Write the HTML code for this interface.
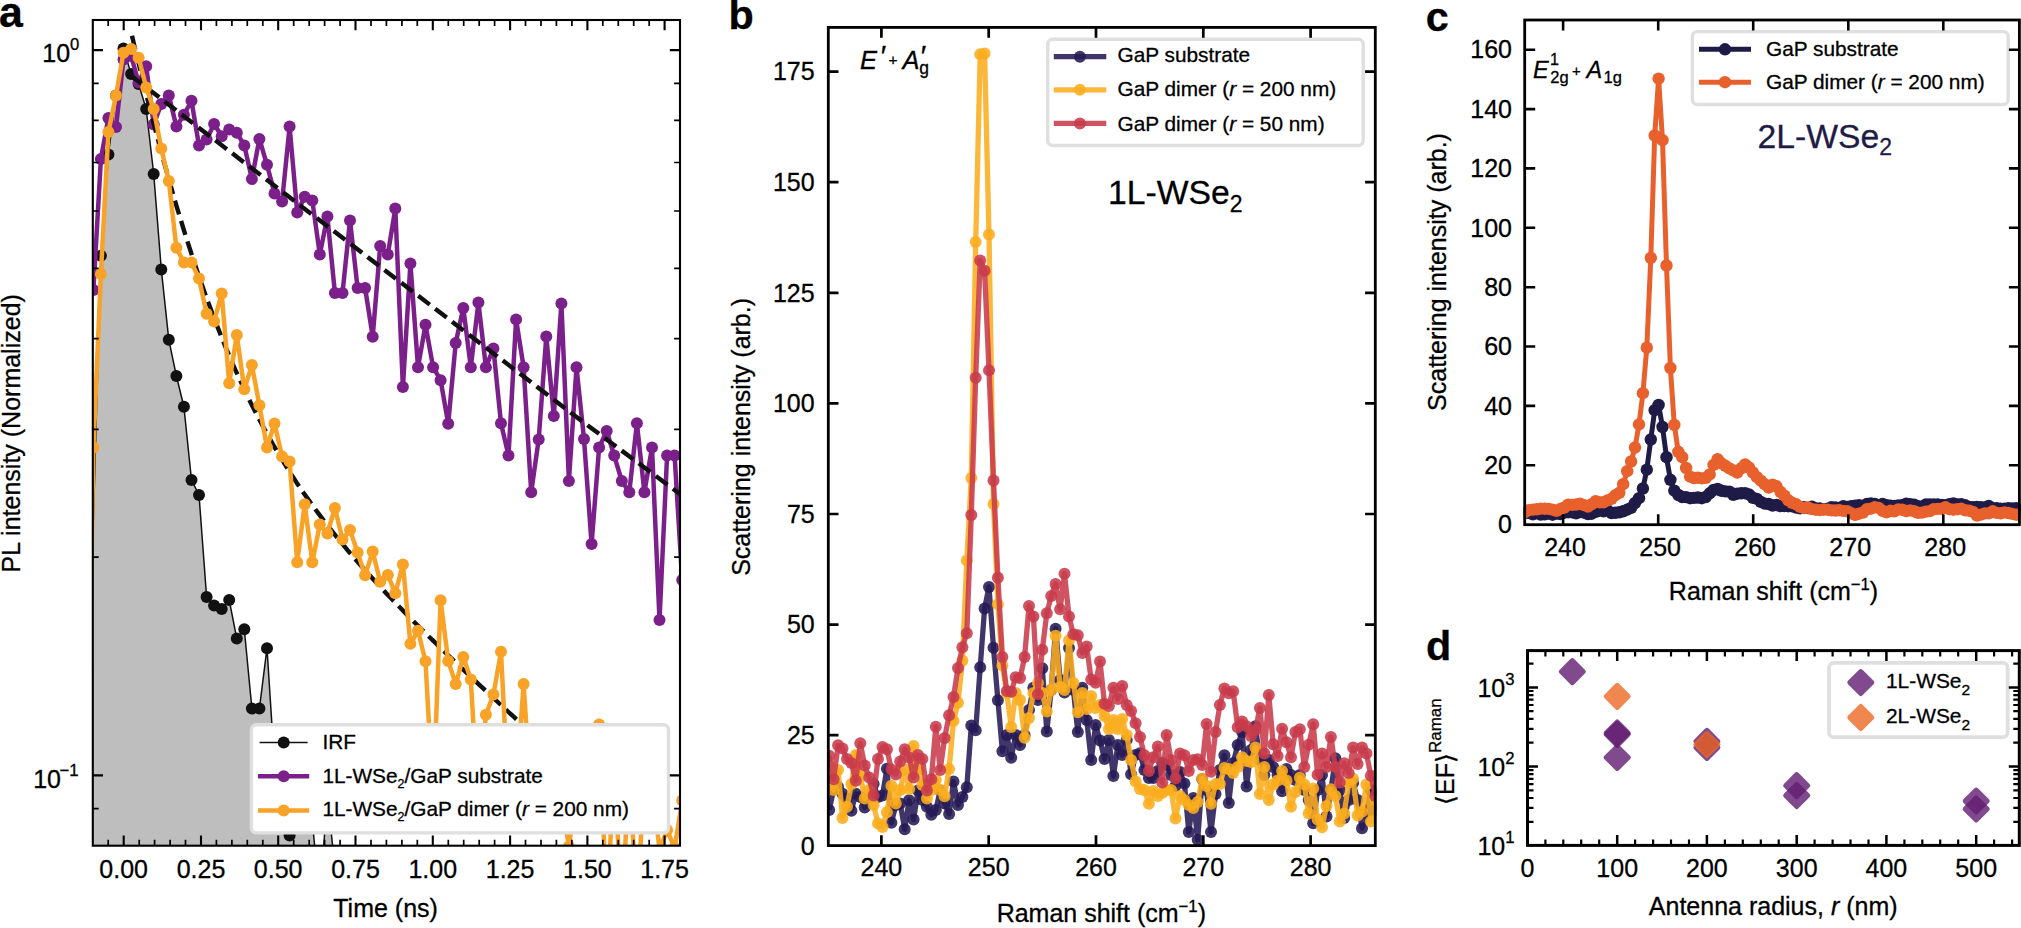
<!DOCTYPE html>
<html lang="en"><head><meta charset="utf-8"><title>Figure</title>
<style>html,body{margin:0;padding:0;background:#fff;}body{width:2021px;height:928px;overflow:hidden;}svg{display:block;}text{stroke-width:0.3px;}</style>
</head><body>
<svg width="2021" height="928" viewBox="0 0 2021 928" font-family='"Liberation Sans", Arial, Helvetica, sans-serif'>
<defs><clipPath id="ca"><rect x="92.8" y="20" width="587.2" height="825.7"/></clipPath><clipPath id="cb"><rect x="827.3" y="27.4" width="549" height="818.2"/></clipPath><clipPath id="cc"><rect x="1523.7" y="20" width="497.7" height="504.7"/></clipPath></defs>
<rect width="2021" height="928" fill="#fff"/>
<polygon points="92.8,1000 93.4,520 100.9,255.8 108.4,154.6 116,95.4 123.5,48.4 131.1,73.9 138.6,84 146.2,109 153.7,174 161.3,269.4 168.8,339.8 176.4,376 183.9,406.8 191.5,480 199,494.9 206.6,596.9 214.1,605.4 221.7,609 229.2,600 236.8,638.6 244.3,629.2 251.9,708.6 259.4,708.6 267,648.2 274.5,765 282.1,805 289.6,835.5 297.2,815 304.7,808 312.3,821 319.8,900 327.4,795 334.9,868 342.5,1000 342.5,1000" fill="#bebebe" clip-path="url(#ca)"/>
<polyline points="93.4,520 100.9,255.8 108.4,154.6 116,95.4 123.5,48.4 131.1,73.9 138.6,84 146.2,109 153.7,174 161.3,269.4 168.8,339.8 176.4,376 183.9,406.8 191.5,480 199,494.9 206.6,596.9 214.1,605.4 221.7,609 229.2,600 236.8,638.6 244.3,629.2 251.9,708.6 259.4,708.6 267,648.2 274.5,765 282.1,805 289.6,835.5 297.2,815 304.7,808 312.3,821 319.8,900 327.4,795 334.9,868 342.5,1000" fill="none" stroke="#111111" stroke-width="1.5" stroke-linejoin="round" stroke-linecap="butt" clip-path="url(#ca)"/>
<g fill="#111111" clip-path="url(#ca)">
<circle cx="100.9" cy="255.8" r="6"/><circle cx="108.4" cy="154.6" r="6"/><circle cx="116" cy="95.4" r="6"/><circle cx="123.5" cy="48.4" r="6"/><circle cx="131.1" cy="73.9" r="6"/><circle cx="138.6" cy="84" r="6"/><circle cx="146.2" cy="109" r="6"/><circle cx="153.7" cy="174" r="6"/><circle cx="161.3" cy="269.4" r="6"/><circle cx="168.8" cy="339.8" r="6"/><circle cx="176.4" cy="376" r="6"/><circle cx="183.9" cy="406.8" r="6"/><circle cx="191.5" cy="480" r="6"/><circle cx="199" cy="494.9" r="6"/><circle cx="206.6" cy="596.9" r="6"/><circle cx="214.1" cy="605.4" r="6"/><circle cx="221.7" cy="609" r="6"/><circle cx="229.2" cy="600" r="6"/><circle cx="236.8" cy="638.6" r="6"/><circle cx="244.3" cy="629.2" r="6"/><circle cx="251.9" cy="708.6" r="6"/><circle cx="259.4" cy="708.6" r="6"/><circle cx="267" cy="648.2" r="6"/><circle cx="274.5" cy="765" r="6"/><circle cx="282.1" cy="805" r="6"/><circle cx="289.6" cy="835.5" r="6"/><circle cx="297.2" cy="815" r="6"/><circle cx="304.7" cy="808" r="6"/><circle cx="312.3" cy="821" r="6"/><circle cx="319.8" cy="900" r="6"/><circle cx="327.4" cy="795" r="6"/><circle cx="334.9" cy="868" r="6"/><circle cx="342.5" cy="1000" r="6"/>
</g>
<polyline points="93.4,290 100.9,159 108.4,118 116,127.1 123.5,59.4 131.1,56 138.6,82.5 146.2,66.3 153.7,124.5 161.3,104 168.8,95.4 176.4,126.6 183.9,114.8 191.5,100.8 199,145.6 206.6,139.6 214.1,124 221.7,136.3 229.2,129.4 236.8,132.7 244.3,145.4 251.9,179 259.4,138.9 267,164.8 274.5,193.4 282.1,201.4 289.6,126.6 297.2,212.4 304.7,196.8 312.3,200.5 319.8,254.5 327.4,216.6 334.9,293.1 342.5,293.1 350,220.5 357.6,287.9 365.1,287.9 372.7,336.7 380.2,245.9 387.8,254.5 395.3,208.6 402.9,387.1 410.4,263.6 418,367.2 425.5,324.8 433.1,367.2 440.6,380.2 448.2,423.7 455.7,342.9 463.3,308 470.8,367.2 478.4,302.6 485.9,367.2 493.4,348.5 501,423.3 508.5,455.6 516.1,319.4 523.6,367.2 531.2,492.2 538.7,439.4 546.3,336.5 553.8,416 561.4,303.5 568.9,481 576.5,367.3 584,439.1 591.6,544.1 599.1,447.6 606.7,430.9 614.2,455.6 621.8,481 629.3,492.2 636.9,423.2 644.4,492.2 652,447.6 659.5,620 667.1,455.5 674.6,455.5 682.2,580" fill="none" stroke="#7b1f8b" stroke-width="4.5" stroke-linejoin="round" stroke-linecap="butt" clip-path="url(#ca)"/>
<g fill="#7b1f8b" clip-path="url(#ca)">
<circle cx="93.4" cy="290" r="6"/><circle cx="100.9" cy="159" r="6"/><circle cx="108.4" cy="118" r="6"/><circle cx="116" cy="127.1" r="6"/><circle cx="123.5" cy="59.4" r="6"/><circle cx="131.1" cy="56" r="6"/><circle cx="138.6" cy="82.5" r="6"/><circle cx="146.2" cy="66.3" r="6"/><circle cx="153.7" cy="124.5" r="6"/><circle cx="161.3" cy="104" r="6"/><circle cx="168.8" cy="95.4" r="6"/><circle cx="176.4" cy="126.6" r="6"/><circle cx="183.9" cy="114.8" r="6"/><circle cx="191.5" cy="100.8" r="6"/><circle cx="199" cy="145.6" r="6"/><circle cx="206.6" cy="139.6" r="6"/><circle cx="214.1" cy="124" r="6"/><circle cx="221.7" cy="136.3" r="6"/><circle cx="229.2" cy="129.4" r="6"/><circle cx="236.8" cy="132.7" r="6"/><circle cx="244.3" cy="145.4" r="6"/><circle cx="251.9" cy="179" r="6"/><circle cx="259.4" cy="138.9" r="6"/><circle cx="267" cy="164.8" r="6"/><circle cx="274.5" cy="193.4" r="6"/><circle cx="282.1" cy="201.4" r="6"/><circle cx="289.6" cy="126.6" r="6"/><circle cx="297.2" cy="212.4" r="6"/><circle cx="304.7" cy="196.8" r="6"/><circle cx="312.3" cy="200.5" r="6"/><circle cx="319.8" cy="254.5" r="6"/><circle cx="327.4" cy="216.6" r="6"/><circle cx="334.9" cy="293.1" r="6"/><circle cx="342.5" cy="293.1" r="6"/><circle cx="350" cy="220.5" r="6"/><circle cx="357.6" cy="287.9" r="6"/><circle cx="365.1" cy="287.9" r="6"/><circle cx="372.7" cy="336.7" r="6"/><circle cx="380.2" cy="245.9" r="6"/><circle cx="387.8" cy="254.5" r="6"/><circle cx="395.3" cy="208.6" r="6"/><circle cx="402.9" cy="387.1" r="6"/><circle cx="410.4" cy="263.6" r="6"/><circle cx="418" cy="367.2" r="6"/><circle cx="425.5" cy="324.8" r="6"/><circle cx="433.1" cy="367.2" r="6"/><circle cx="440.6" cy="380.2" r="6"/><circle cx="448.2" cy="423.7" r="6"/><circle cx="455.7" cy="342.9" r="6"/><circle cx="463.3" cy="308" r="6"/><circle cx="470.8" cy="367.2" r="6"/><circle cx="478.4" cy="302.6" r="6"/><circle cx="485.9" cy="367.2" r="6"/><circle cx="493.4" cy="348.5" r="6"/><circle cx="501" cy="423.3" r="6"/><circle cx="508.5" cy="455.6" r="6"/><circle cx="516.1" cy="319.4" r="6"/><circle cx="523.6" cy="367.2" r="6"/><circle cx="531.2" cy="492.2" r="6"/><circle cx="538.7" cy="439.4" r="6"/><circle cx="546.3" cy="336.5" r="6"/><circle cx="553.8" cy="416" r="6"/><circle cx="561.4" cy="303.5" r="6"/><circle cx="568.9" cy="481" r="6"/><circle cx="576.5" cy="367.3" r="6"/><circle cx="584" cy="439.1" r="6"/><circle cx="591.6" cy="544.1" r="6"/><circle cx="599.1" cy="447.6" r="6"/><circle cx="606.7" cy="430.9" r="6"/><circle cx="614.2" cy="455.6" r="6"/><circle cx="621.8" cy="481" r="6"/><circle cx="629.3" cy="492.2" r="6"/><circle cx="636.9" cy="423.2" r="6"/><circle cx="644.4" cy="492.2" r="6"/><circle cx="652" cy="447.6" r="6"/><circle cx="659.5" cy="620" r="6"/><circle cx="667.1" cy="455.5" r="6"/><circle cx="674.6" cy="455.5" r="6"/><circle cx="682.2" cy="580" r="6"/>
</g>
<polyline points="130.8,75.6 577.5,417.8 633.3,459.3 680,494" fill="none" stroke="#111111" stroke-width="4.4" stroke-linejoin="round" stroke-linecap="butt" stroke-dasharray="14.5 6.8" clip-path="url(#ca)"/>
<polyline points="132,35.7 135.2,49.4 138.5,62.8 141.7,76.1 144.9,89.2 148.2,102 151.4,114.7 154.6,127.1 157.9,139.4 161.1,151.4 164.3,163.2 167.6,174.8 170.8,186.2 174,197.3 177.2,208.3 180.5,219 183.7,229.5 186.9,239.8 190.2,249.9 193.4,259.8 196.6,269.4 199.9,278.9 203.1,288.1 206.3,297.2 209.6,306 212.8,314.7 216,323.1 219.3,331.4 222.5,339.5 225.7,347.4 229,355.1 232.2,362.6 235.4,370 238.7,377.2 241.9,384.2 245.1,391.1 248.3,397.8 251.6,404.4 254.8,410.8 258,417.1 261.3,423.2 264.5,429.2 267.7,435.1 271,440.9 274.2,446.5 277.4,452 280.7,457.4 283.9,462.7 287.1,467.9 290.4,473 293.6,478 296.8,482.9 300.1,487.7 303.3,492.4 306.5,497 309.8,501.6 313,506.1 316.2,510.5 319.5,514.9 322.7,519.1 325.9,523.3 329.1,527.5 332.4,531.6 335.6,535.6 338.8,539.6 342.1,543.5 345.3,547.4 348.5,551.3 351.8,555.1 355,558.8 358.2,562.5 361.5,566.2 364.7,569.8 367.9,573.4 371.2,577 374.4,580.5 377.6,584 380.9,587.5 384.1,590.9 387.3,594.4 390.6,597.8 393.8,601.1 397,604.5 400.3,607.8 403.5,611.1 406.7,614.4 409.9,617.7 413.2,620.9 416.4,624.2 419.6,627.4 422.9,630.6 426.1,633.8 429.3,637 432.6,640.1 435.8,643.3 439,646.4 442.3,649.6 445.5,652.7 448.7,655.8 452,658.9 455.2,662 458.4,665 461.7,668.1 464.9,671.2 468.1,674.2 471.4,677.3 474.6,680.3 477.8,683.4 481,686.4 484.3,689.4 487.5,692.4 490.7,695.5 494,698.5 497.2,701.5 500.4,704.5 503.7,707.5 506.9,710.5 510.1,713.5 513.4,716.4 516.6,719.4" fill="none" stroke="#111111" stroke-width="4.4" stroke-linejoin="round" stroke-linecap="butt" stroke-dasharray="14.5 6.8" clip-path="url(#ca)"/>
<polyline points="85.8,900 93.4,447.5 100.9,274 108.4,132 116,95.4 123.5,52.7 131.1,49.1 138.6,57.7 146.2,87.4 153.7,109 161.3,148.6 168.8,181.1 176.4,247.7 183.9,262.5 191.5,262.5 199,278.5 206.6,313.8 214.1,321.4 221.7,293.6 229.2,383.2 236.8,334.9 244.3,389.3 251.9,365.1 259.4,405.3 267,447.5 274.5,423.4 282.1,456.6 289.6,461.4 297.2,562.2 304.7,504.3 312.3,562.2 319.8,524.5 327.4,533.5 334.9,507.9 342.5,539.6 350,529.9 357.6,552.6 365.1,575.2 372.7,551.6 380.2,581.8 387.8,574.9 395.3,593.3 402.9,564.6 410.4,643.8 418,630.8 425.5,661.3 433.1,800 440.6,600.2 448.2,661 455.7,684.1 463.3,657 470.8,679.5 478.4,810 485.9,714.8 493.4,694.6 501,651.8 508.5,800 516.1,790 523.6,684 531.2,800 538.7,820 546.3,790 553.8,820 561.4,800 568.9,846.5 576.5,790 584,810 591.6,780 599.1,724.5 606.7,905 614.2,775 621.8,905 629.3,775 636.9,905 644.4,780 652,780 659.5,850 667.1,830 674.6,848 682.2,800.5" fill="none" stroke="#f8a227" stroke-width="4.5" stroke-linejoin="round" stroke-linecap="butt" clip-path="url(#ca)"/>
<g fill="#f8a227" clip-path="url(#ca)">
<circle cx="85.8" cy="900" r="6"/><circle cx="93.4" cy="447.5" r="6"/><circle cx="100.9" cy="274" r="6"/><circle cx="108.4" cy="132" r="6"/><circle cx="116" cy="95.4" r="6"/><circle cx="123.5" cy="52.7" r="6"/><circle cx="131.1" cy="49.1" r="6"/><circle cx="138.6" cy="57.7" r="6"/><circle cx="146.2" cy="87.4" r="6"/><circle cx="153.7" cy="109" r="6"/><circle cx="161.3" cy="148.6" r="6"/><circle cx="168.8" cy="181.1" r="6"/><circle cx="176.4" cy="247.7" r="6"/><circle cx="183.9" cy="262.5" r="6"/><circle cx="191.5" cy="262.5" r="6"/><circle cx="199" cy="278.5" r="6"/><circle cx="206.6" cy="313.8" r="6"/><circle cx="214.1" cy="321.4" r="6"/><circle cx="221.7" cy="293.6" r="6"/><circle cx="229.2" cy="383.2" r="6"/><circle cx="236.8" cy="334.9" r="6"/><circle cx="244.3" cy="389.3" r="6"/><circle cx="251.9" cy="365.1" r="6"/><circle cx="259.4" cy="405.3" r="6"/><circle cx="267" cy="447.5" r="6"/><circle cx="274.5" cy="423.4" r="6"/><circle cx="282.1" cy="456.6" r="6"/><circle cx="289.6" cy="461.4" r="6"/><circle cx="297.2" cy="562.2" r="6"/><circle cx="304.7" cy="504.3" r="6"/><circle cx="312.3" cy="562.2" r="6"/><circle cx="319.8" cy="524.5" r="6"/><circle cx="327.4" cy="533.5" r="6"/><circle cx="334.9" cy="507.9" r="6"/><circle cx="342.5" cy="539.6" r="6"/><circle cx="350" cy="529.9" r="6"/><circle cx="357.6" cy="552.6" r="6"/><circle cx="365.1" cy="575.2" r="6"/><circle cx="372.7" cy="551.6" r="6"/><circle cx="380.2" cy="581.8" r="6"/><circle cx="387.8" cy="574.9" r="6"/><circle cx="395.3" cy="593.3" r="6"/><circle cx="402.9" cy="564.6" r="6"/><circle cx="410.4" cy="643.8" r="6"/><circle cx="418" cy="630.8" r="6"/><circle cx="425.5" cy="661.3" r="6"/><circle cx="433.1" cy="800" r="6"/><circle cx="440.6" cy="600.2" r="6"/><circle cx="448.2" cy="661" r="6"/><circle cx="455.7" cy="684.1" r="6"/><circle cx="463.3" cy="657" r="6"/><circle cx="470.8" cy="679.5" r="6"/><circle cx="478.4" cy="810" r="6"/><circle cx="485.9" cy="714.8" r="6"/><circle cx="493.4" cy="694.6" r="6"/><circle cx="501" cy="651.8" r="6"/><circle cx="508.5" cy="800" r="6"/><circle cx="516.1" cy="790" r="6"/><circle cx="523.6" cy="684" r="6"/><circle cx="531.2" cy="800" r="6"/><circle cx="538.7" cy="820" r="6"/><circle cx="546.3" cy="790" r="6"/><circle cx="553.8" cy="820" r="6"/><circle cx="561.4" cy="800" r="6"/><circle cx="568.9" cy="846.5" r="6"/><circle cx="576.5" cy="790" r="6"/><circle cx="584" cy="810" r="6"/><circle cx="591.6" cy="780" r="6"/><circle cx="599.1" cy="724.5" r="6"/><circle cx="606.7" cy="905" r="6"/><circle cx="614.2" cy="775" r="6"/><circle cx="621.8" cy="905" r="6"/><circle cx="629.3" cy="775" r="6"/><circle cx="636.9" cy="905" r="6"/><circle cx="644.4" cy="780" r="6"/><circle cx="652" cy="780" r="6"/><circle cx="659.5" cy="850" r="6"/><circle cx="667.1" cy="830" r="6"/><circle cx="674.6" cy="848" r="6"/><circle cx="682.2" cy="800.5" r="6"/>
</g>
<rect x="251.4" y="724.7" width="417.1" height="108.2" rx="5" ry="5" fill="#fff" stroke="#dfdfdf" stroke-width="3.4"/>
<line x1="259.6" y1="742.6" x2="307.6" y2="742.6" stroke="#111111" stroke-width="1.5"/>
<g fill="#111111">
<circle cx="283.7" cy="742.6" r="6"/>
</g>
<line x1="258" y1="776.2" x2="309.2" y2="776.2" stroke="#7b1f8b" stroke-width="4.5"/>
<g fill="#7b1f8b">
<circle cx="283.7" cy="776.2" r="6"/>
</g>
<line x1="258" y1="810.6" x2="309.2" y2="810.6" stroke="#f8a227" stroke-width="4.5"/>
<g fill="#f8a227">
<circle cx="283.7" cy="810.6" r="6"/>
</g>
<text x="322.4" y="748.7" font-size="20.8" text-anchor="start" stroke="#000">IRF</text>
<text x="322.4" y="782.9" font-size="20.8" text-anchor="start" stroke="#000">1L-WSe<tspan font-size="12.5" dy="4.7">2</tspan><tspan dy="-4.7">/</tspan>GaP substrate</text>
<text x="322.4" y="816.3" font-size="20.8" text-anchor="start" stroke="#000">1L-WSe<tspan font-size="12.5" dy="4.7">2</tspan><tspan dy="-4.7">/</tspan>GaP dimer (<tspan font-style="italic">r</tspan> = 200 nm)</text>
<path d="M123.7 845.7V835.5M123.7 20V30.2M201 845.7V835.5M201 20V30.2M278.2 845.7V835.5M278.2 20V30.2M355.5 845.7V835.5M355.5 20V30.2M432.8 845.7V835.5M432.8 20V30.2M510.1 845.7V835.5M510.1 20V30.2M587.4 845.7V835.5M587.4 20V30.2M664.6 845.7V835.5M664.6 20V30.2" stroke="#000" stroke-width="2.1" fill="none"/>
<path d="M108.2 845.7V839.8M108.2 20V25.9M139.2 845.7V839.8M139.2 20V25.9M154.6 845.7V839.8M154.6 20V25.9M170.1 845.7V839.8M170.1 20V25.9M185.5 845.7V839.8M185.5 20V25.9M216.4 845.7V839.8M216.4 20V25.9M231.9 845.7V839.8M231.9 20V25.9M247.3 845.7V839.8M247.3 20V25.9M262.8 845.7V839.8M262.8 20V25.9M293.7 845.7V839.8M293.7 20V25.9M309.2 845.7V839.8M309.2 20V25.9M324.6 845.7V839.8M324.6 20V25.9M340.1 845.7V839.8M340.1 20V25.9M371 845.7V839.8M371 20V25.9M386.4 845.7V839.8M386.4 20V25.9M401.9 845.7V839.8M401.9 20V25.9M417.3 845.7V839.8M417.3 20V25.9M448.3 845.7V839.8M448.3 20V25.9M463.7 845.7V839.8M463.7 20V25.9M479.2 845.7V839.8M479.2 20V25.9M494.6 845.7V839.8M494.6 20V25.9M525.5 845.7V839.8M525.5 20V25.9M541 845.7V839.8M541 20V25.9M556.4 845.7V839.8M556.4 20V25.9M571.9 845.7V839.8M571.9 20V25.9M602.8 845.7V839.8M602.8 20V25.9M618.3 845.7V839.8M618.3 20V25.9M633.7 845.7V839.8M633.7 20V25.9M649.2 845.7V839.8M649.2 20V25.9" stroke="#000" stroke-width="1.7" fill="none"/>
<path d="M92.8 50.1H103M680 50.1H669.8M92.8 775.4H103M680 775.4H669.8" stroke="#000" stroke-width="2.1" fill="none"/>
<path d="M92.8 557.1H98.7M680 557.1H674.1M92.8 429.3H98.7M680 429.3H674.1M92.8 338.7H98.7M680 338.7H674.1M92.8 268.4H98.7M680 268.4H674.1M92.8 211H98.7M680 211H674.1M92.8 162.5H98.7M680 162.5H674.1M92.8 120.4H98.7M680 120.4H674.1M92.8 83.3H98.7M680 83.3H674.1M92.8 808.6H98.7M680 808.6H674.1" stroke="#000" stroke-width="1.7" fill="none"/>
<rect x="92.8" y="20" width="587.2" height="825.7" fill="none" stroke="#000" stroke-width="2.1"/>
<text x="123.7" y="877.7" font-size="25" text-anchor="middle" stroke="#000">0.00</text>
<text x="201" y="877.7" font-size="25" text-anchor="middle" stroke="#000">0.25</text>
<text x="278.2" y="877.7" font-size="25" text-anchor="middle" stroke="#000">0.50</text>
<text x="355.5" y="877.7" font-size="25" text-anchor="middle" stroke="#000">0.75</text>
<text x="432.8" y="877.7" font-size="25" text-anchor="middle" stroke="#000">1.00</text>
<text x="510.1" y="877.7" font-size="25" text-anchor="middle" stroke="#000">1.25</text>
<text x="587.4" y="877.7" font-size="25" text-anchor="middle" stroke="#000">1.50</text>
<text x="664.6" y="877.7" font-size="25" text-anchor="middle" stroke="#000">1.75</text>
<text x="385.6" y="917" font-size="25" text-anchor="middle" stroke="#000">Time (ns)</text>
<text x="79.4" y="62" font-size="25" text-anchor="end" stroke="#000">10<tspan font-size="16.7" dy="-11.8">0</tspan></text>
<text x="78.6" y="788" font-size="25" text-anchor="end" stroke="#000">10<tspan font-size="16.7" dx="-1.4" dy="-11.8">−1</tspan></text>
<text x="20" y="433.3" font-size="25" text-anchor="middle" stroke="#000" transform="rotate(-90 20 433.3)">PL intensity (Normalized)</text>
<text x="-0.9" y="26.8" font-size="42.8" text-anchor="start" font-weight="bold" stroke="#000">a</text>
<polyline points="829.2,810 833.6,789.7 838.1,787 842.5,793.7 847,798.6 851.4,810.7 855.8,793.7 860.3,797 864.7,807.5 869.2,797 873.6,784 878,797 882.5,795.4 886.9,768.7 891.4,822.8 895.8,805 900.2,803.4 904.7,829.3 909.1,800.2 913.6,819.6 918,790.5 922.4,800 926.9,806.7 931.3,814.8 935.8,810 940.2,790.5 944.6,803.4 949.1,814 953.5,781.6 958,805 962.4,797 966.8,787.3 971.3,725.4 975.7,730.3 980.2,667.2 984.6,608.4 989,587 993.5,647.8 997.9,700.2 1002.4,751.3 1006.8,735 1011.2,757.7 1015.7,735 1020.1,745 1024.6,735 1029,710 1033.4,687.7 1037.9,700 1042.3,668.3 1046.8,731.5 1051.2,690 1055.6,628.7 1060.1,680 1064.5,692.5 1069,648.1 1073.4,690 1077.8,732 1082.3,687.7 1086.7,720 1091.2,760.1 1095.6,725 1100,740.4 1104.5,759 1108.9,740 1113.4,776 1117.8,745 1122.2,755 1126.7,740 1131.1,774.3 1135.6,755 1140,753.3 1144.4,770 1148.9,778 1153.3,778 1157.8,771 1162.2,763 1166.6,765 1171.1,775 1175.5,786 1180,772 1184.4,783.5 1188.8,832 1193.3,798 1197.7,839.7 1202.2,779 1206.6,790 1211,832 1215.5,794 1219.9,770 1224.4,755.3 1228.8,802.9 1233.2,763 1237.7,745 1242.1,732.1 1246.6,786.4 1251,750 1255.4,726.2 1259.9,760 1264.3,775 1268.8,760 1273.2,767 1277.6,775 1282.1,791.2 1286.5,769 1291,775 1295.4,780 1299.8,775 1304.3,790 1308.7,800 1313.2,823.3 1317.6,790 1322,775 1326.5,816.5 1330.9,790 1335.4,758.3 1339.8,790 1344.2,818 1348.7,800 1353.1,783 1357.6,800 1362,828.2 1366.4,813 1370.9,790 1375.3,810" fill="none" stroke="#261a55" stroke-width="5.3" stroke-linejoin="round" stroke-linecap="butt" stroke-opacity="0.88" clip-path="url(#cb)"/>
<g fill="#261a55" fill-opacity="0.88" clip-path="url(#cb)">
<circle cx="829.2" cy="810" r="6"/><circle cx="833.6" cy="789.7" r="6"/><circle cx="838.1" cy="787" r="6"/><circle cx="842.5" cy="793.7" r="6"/><circle cx="847" cy="798.6" r="6"/><circle cx="851.4" cy="810.7" r="6"/><circle cx="855.8" cy="793.7" r="6"/><circle cx="860.3" cy="797" r="6"/><circle cx="864.7" cy="807.5" r="6"/><circle cx="869.2" cy="797" r="6"/><circle cx="873.6" cy="784" r="6"/><circle cx="878" cy="797" r="6"/><circle cx="882.5" cy="795.4" r="6"/><circle cx="886.9" cy="768.7" r="6"/><circle cx="891.4" cy="822.8" r="6"/><circle cx="895.8" cy="805" r="6"/><circle cx="900.2" cy="803.4" r="6"/><circle cx="904.7" cy="829.3" r="6"/><circle cx="909.1" cy="800.2" r="6"/><circle cx="913.6" cy="819.6" r="6"/><circle cx="918" cy="790.5" r="6"/><circle cx="922.4" cy="800" r="6"/><circle cx="926.9" cy="806.7" r="6"/><circle cx="931.3" cy="814.8" r="6"/><circle cx="935.8" cy="810" r="6"/><circle cx="940.2" cy="790.5" r="6"/><circle cx="944.6" cy="803.4" r="6"/><circle cx="949.1" cy="814" r="6"/><circle cx="953.5" cy="781.6" r="6"/><circle cx="958" cy="805" r="6"/><circle cx="962.4" cy="797" r="6"/><circle cx="966.8" cy="787.3" r="6"/><circle cx="971.3" cy="725.4" r="6"/><circle cx="975.7" cy="730.3" r="6"/><circle cx="980.2" cy="667.2" r="6"/><circle cx="984.6" cy="608.4" r="6"/><circle cx="989" cy="587" r="6"/><circle cx="993.5" cy="647.8" r="6"/><circle cx="997.9" cy="700.2" r="6"/><circle cx="1002.4" cy="751.3" r="6"/><circle cx="1006.8" cy="735" r="6"/><circle cx="1011.2" cy="757.7" r="6"/><circle cx="1015.7" cy="735" r="6"/><circle cx="1020.1" cy="745" r="6"/><circle cx="1024.6" cy="735" r="6"/><circle cx="1029" cy="710" r="6"/><circle cx="1033.4" cy="687.7" r="6"/><circle cx="1037.9" cy="700" r="6"/><circle cx="1042.3" cy="668.3" r="6"/><circle cx="1046.8" cy="731.5" r="6"/><circle cx="1051.2" cy="690" r="6"/><circle cx="1055.6" cy="628.7" r="6"/><circle cx="1060.1" cy="680" r="6"/><circle cx="1064.5" cy="692.5" r="6"/><circle cx="1069" cy="648.1" r="6"/><circle cx="1073.4" cy="690" r="6"/><circle cx="1077.8" cy="732" r="6"/><circle cx="1082.3" cy="687.7" r="6"/><circle cx="1086.7" cy="720" r="6"/><circle cx="1091.2" cy="760.1" r="6"/><circle cx="1095.6" cy="725" r="6"/><circle cx="1100" cy="740.4" r="6"/><circle cx="1104.5" cy="759" r="6"/><circle cx="1108.9" cy="740" r="6"/><circle cx="1113.4" cy="776" r="6"/><circle cx="1117.8" cy="745" r="6"/><circle cx="1122.2" cy="755" r="6"/><circle cx="1126.7" cy="740" r="6"/><circle cx="1131.1" cy="774.3" r="6"/><circle cx="1135.6" cy="755" r="6"/><circle cx="1140" cy="753.3" r="6"/><circle cx="1144.4" cy="770" r="6"/><circle cx="1148.9" cy="778" r="6"/><circle cx="1153.3" cy="778" r="6"/><circle cx="1157.8" cy="771" r="6"/><circle cx="1162.2" cy="763" r="6"/><circle cx="1166.6" cy="765" r="6"/><circle cx="1171.1" cy="775" r="6"/><circle cx="1175.5" cy="786" r="6"/><circle cx="1180" cy="772" r="6"/><circle cx="1184.4" cy="783.5" r="6"/><circle cx="1188.8" cy="832" r="6"/><circle cx="1193.3" cy="798" r="6"/><circle cx="1197.7" cy="839.7" r="6"/><circle cx="1202.2" cy="779" r="6"/><circle cx="1206.6" cy="790" r="6"/><circle cx="1211" cy="832" r="6"/><circle cx="1215.5" cy="794" r="6"/><circle cx="1219.9" cy="770" r="6"/><circle cx="1224.4" cy="755.3" r="6"/><circle cx="1228.8" cy="802.9" r="6"/><circle cx="1233.2" cy="763" r="6"/><circle cx="1237.7" cy="745" r="6"/><circle cx="1242.1" cy="732.1" r="6"/><circle cx="1246.6" cy="786.4" r="6"/><circle cx="1251" cy="750" r="6"/><circle cx="1255.4" cy="726.2" r="6"/><circle cx="1259.9" cy="760" r="6"/><circle cx="1264.3" cy="775" r="6"/><circle cx="1268.8" cy="760" r="6"/><circle cx="1273.2" cy="767" r="6"/><circle cx="1277.6" cy="775" r="6"/><circle cx="1282.1" cy="791.2" r="6"/><circle cx="1286.5" cy="769" r="6"/><circle cx="1291" cy="775" r="6"/><circle cx="1295.4" cy="780" r="6"/><circle cx="1299.8" cy="775" r="6"/><circle cx="1304.3" cy="790" r="6"/><circle cx="1308.7" cy="800" r="6"/><circle cx="1313.2" cy="823.3" r="6"/><circle cx="1317.6" cy="790" r="6"/><circle cx="1322" cy="775" r="6"/><circle cx="1326.5" cy="816.5" r="6"/><circle cx="1330.9" cy="790" r="6"/><circle cx="1335.4" cy="758.3" r="6"/><circle cx="1339.8" cy="790" r="6"/><circle cx="1344.2" cy="818" r="6"/><circle cx="1348.7" cy="800" r="6"/><circle cx="1353.1" cy="783" r="6"/><circle cx="1357.6" cy="800" r="6"/><circle cx="1362" cy="828.2" r="6"/><circle cx="1366.4" cy="813" r="6"/><circle cx="1370.9" cy="790" r="6"/><circle cx="1375.3" cy="810" r="6"/>
</g>
<polyline points="829.2,764.6 833.6,790 838.1,770 842.5,818 847,806.7 851.4,784 855.8,755 860.3,775 864.7,798.6 869.2,790 873.6,805 878,823.6 882.5,826.9 886.9,812.3 891.4,785.7 895.8,803.4 900.2,790 904.7,769.5 909.1,788.9 913.6,746 918,770 922.4,785 926.9,798.6 931.3,790 935.8,780 940.2,790 944.6,796.2 949.1,769 953.5,721 958,702.8 962.4,660.8 966.8,560.5 971.3,478 975.7,242 980.2,54.2 984.6,53.6 989,234.5 993.5,504 997.9,604.2 1002.4,665.6 1006.8,693 1011.2,727 1015.7,693 1020.1,700 1024.6,737.7 1029,718 1033.4,693 1037.9,683 1042.3,693 1046.8,711.5 1051.2,690 1055.6,635.8 1060.1,687 1064.5,690 1069,640.3 1073.4,683 1077.8,712.3 1082.3,693 1086.7,709 1091.2,696 1095.6,708 1100,705 1104.5,716 1108.9,729 1113.4,720 1117.8,729 1122.2,719 1126.7,735 1131.1,760 1135.6,781.6 1140,788.9 1144.4,790 1148.9,803.8 1153.3,791 1157.8,796 1162.2,793 1166.6,790 1171.1,790 1175.5,818.4 1180,796 1184.4,800 1188.8,805 1193.3,808 1197.7,802 1202.2,778.6 1206.6,786 1211,803.8 1215.5,784 1219.9,784 1224.4,768 1228.8,769 1233.2,773 1237.7,767 1242.1,757.3 1246.6,761 1251,762 1255.4,747.6 1259.9,794.1 1264.3,767 1268.8,800 1273.2,784.5 1277.6,780.6 1282.1,771 1286.5,780.6 1291,806.8 1295.4,792 1299.8,777.7 1304.3,784.5 1308.7,813.6 1313.2,788.4 1317.6,819.4 1322,827.2 1326.5,806 1330.9,789.3 1335.4,796 1339.8,821.4 1344.2,813.6 1348.7,782.6 1353.1,778.7 1357.6,815.5 1362,811.7 1366.4,784.5 1370.9,821.4 1375.3,800" fill="none" stroke="#fbad1e" stroke-width="5.3" stroke-linejoin="round" stroke-linecap="butt" stroke-opacity="0.88" clip-path="url(#cb)"/>
<g fill="#fbad1e" fill-opacity="0.88" clip-path="url(#cb)">
<circle cx="829.2" cy="764.6" r="6"/><circle cx="833.6" cy="790" r="6"/><circle cx="838.1" cy="770" r="6"/><circle cx="842.5" cy="818" r="6"/><circle cx="847" cy="806.7" r="6"/><circle cx="851.4" cy="784" r="6"/><circle cx="855.8" cy="755" r="6"/><circle cx="860.3" cy="775" r="6"/><circle cx="864.7" cy="798.6" r="6"/><circle cx="869.2" cy="790" r="6"/><circle cx="873.6" cy="805" r="6"/><circle cx="878" cy="823.6" r="6"/><circle cx="882.5" cy="826.9" r="6"/><circle cx="886.9" cy="812.3" r="6"/><circle cx="891.4" cy="785.7" r="6"/><circle cx="895.8" cy="803.4" r="6"/><circle cx="900.2" cy="790" r="6"/><circle cx="904.7" cy="769.5" r="6"/><circle cx="909.1" cy="788.9" r="6"/><circle cx="913.6" cy="746" r="6"/><circle cx="918" cy="770" r="6"/><circle cx="922.4" cy="785" r="6"/><circle cx="926.9" cy="798.6" r="6"/><circle cx="931.3" cy="790" r="6"/><circle cx="935.8" cy="780" r="6"/><circle cx="940.2" cy="790" r="6"/><circle cx="944.6" cy="796.2" r="6"/><circle cx="949.1" cy="769" r="6"/><circle cx="953.5" cy="721" r="6"/><circle cx="958" cy="702.8" r="6"/><circle cx="962.4" cy="660.8" r="6"/><circle cx="966.8" cy="560.5" r="6"/><circle cx="971.3" cy="478" r="6"/><circle cx="975.7" cy="242" r="6"/><circle cx="980.2" cy="54.2" r="6"/><circle cx="984.6" cy="53.6" r="6"/><circle cx="989" cy="234.5" r="6"/><circle cx="993.5" cy="504" r="6"/><circle cx="997.9" cy="604.2" r="6"/><circle cx="1002.4" cy="665.6" r="6"/><circle cx="1006.8" cy="693" r="6"/><circle cx="1011.2" cy="727" r="6"/><circle cx="1015.7" cy="693" r="6"/><circle cx="1020.1" cy="700" r="6"/><circle cx="1024.6" cy="737.7" r="6"/><circle cx="1029" cy="718" r="6"/><circle cx="1033.4" cy="693" r="6"/><circle cx="1037.9" cy="683" r="6"/><circle cx="1042.3" cy="693" r="6"/><circle cx="1046.8" cy="711.5" r="6"/><circle cx="1051.2" cy="690" r="6"/><circle cx="1055.6" cy="635.8" r="6"/><circle cx="1060.1" cy="687" r="6"/><circle cx="1064.5" cy="690" r="6"/><circle cx="1069" cy="640.3" r="6"/><circle cx="1073.4" cy="683" r="6"/><circle cx="1077.8" cy="712.3" r="6"/><circle cx="1082.3" cy="693" r="6"/><circle cx="1086.7" cy="709" r="6"/><circle cx="1091.2" cy="696" r="6"/><circle cx="1095.6" cy="708" r="6"/><circle cx="1100" cy="705" r="6"/><circle cx="1104.5" cy="716" r="6"/><circle cx="1108.9" cy="729" r="6"/><circle cx="1113.4" cy="720" r="6"/><circle cx="1117.8" cy="729" r="6"/><circle cx="1122.2" cy="719" r="6"/><circle cx="1126.7" cy="735" r="6"/><circle cx="1131.1" cy="760" r="6"/><circle cx="1135.6" cy="781.6" r="6"/><circle cx="1140" cy="788.9" r="6"/><circle cx="1144.4" cy="790" r="6"/><circle cx="1148.9" cy="803.8" r="6"/><circle cx="1153.3" cy="791" r="6"/><circle cx="1157.8" cy="796" r="6"/><circle cx="1162.2" cy="793" r="6"/><circle cx="1166.6" cy="790" r="6"/><circle cx="1171.1" cy="790" r="6"/><circle cx="1175.5" cy="818.4" r="6"/><circle cx="1180" cy="796" r="6"/><circle cx="1184.4" cy="800" r="6"/><circle cx="1188.8" cy="805" r="6"/><circle cx="1193.3" cy="808" r="6"/><circle cx="1197.7" cy="802" r="6"/><circle cx="1202.2" cy="778.6" r="6"/><circle cx="1206.6" cy="786" r="6"/><circle cx="1211" cy="803.8" r="6"/><circle cx="1215.5" cy="784" r="6"/><circle cx="1219.9" cy="784" r="6"/><circle cx="1224.4" cy="768" r="6"/><circle cx="1228.8" cy="769" r="6"/><circle cx="1233.2" cy="773" r="6"/><circle cx="1237.7" cy="767" r="6"/><circle cx="1242.1" cy="757.3" r="6"/><circle cx="1246.6" cy="761" r="6"/><circle cx="1251" cy="762" r="6"/><circle cx="1255.4" cy="747.6" r="6"/><circle cx="1259.9" cy="794.1" r="6"/><circle cx="1264.3" cy="767" r="6"/><circle cx="1268.8" cy="800" r="6"/><circle cx="1273.2" cy="784.5" r="6"/><circle cx="1277.6" cy="780.6" r="6"/><circle cx="1282.1" cy="771" r="6"/><circle cx="1286.5" cy="780.6" r="6"/><circle cx="1291" cy="806.8" r="6"/><circle cx="1295.4" cy="792" r="6"/><circle cx="1299.8" cy="777.7" r="6"/><circle cx="1304.3" cy="784.5" r="6"/><circle cx="1308.7" cy="813.6" r="6"/><circle cx="1313.2" cy="788.4" r="6"/><circle cx="1317.6" cy="819.4" r="6"/><circle cx="1322" cy="827.2" r="6"/><circle cx="1326.5" cy="806" r="6"/><circle cx="1330.9" cy="789.3" r="6"/><circle cx="1335.4" cy="796" r="6"/><circle cx="1339.8" cy="821.4" r="6"/><circle cx="1344.2" cy="813.6" r="6"/><circle cx="1348.7" cy="782.6" r="6"/><circle cx="1353.1" cy="778.7" r="6"/><circle cx="1357.6" cy="815.5" r="6"/><circle cx="1362" cy="811.7" r="6"/><circle cx="1366.4" cy="784.5" r="6"/><circle cx="1370.9" cy="821.4" r="6"/><circle cx="1375.3" cy="800" r="6"/>
</g>
<polyline points="829.2,755.8 833.6,779.2 838.1,745.3 842.5,748.5 847,759 851.4,763 855.8,780.8 860.3,743.3 864.7,765.5 869.2,777.6 873.6,795.4 878,759 882.5,746.9 886.9,749.3 891.4,769.5 895.8,774.4 900.2,761.4 904.7,749.3 909.1,757.4 913.6,777.6 918,755 922.4,759 926.9,790.5 931.3,779.2 935.8,726.7 940.2,770 944.6,738 949.1,715.2 953.5,697 958,667.9 962.4,647.2 966.8,633.3 971.3,515.1 975.7,377.8 980.2,260.4 984.6,270.8 989,370.3 993.5,480.6 997.9,577.7 1002.4,657 1006.8,690.9 1011.2,691.7 1015.7,677.2 1020.1,678 1024.6,657 1029,606 1033.4,616.6 1037.9,694.2 1042.3,649.7 1046.8,613.3 1051.2,595.9 1055.6,583.9 1060.1,609.3 1064.5,573.7 1069,616.6 1073.4,634.3 1077.8,635.2 1082.3,652.9 1086.7,646.5 1091.2,679.6 1095.6,682.8 1100,661.5 1104.5,703.8 1108.9,706 1113.4,687.7 1117.8,699 1122.2,686 1126.7,705 1131.1,711 1135.6,723.3 1140,736.9 1144.4,755.3 1148.9,770.9 1153.3,757.3 1157.8,746.6 1162.2,782.5 1166.6,735 1171.1,760 1175.5,778.6 1180,753.4 1184.4,755.3 1188.8,770.9 1193.3,760 1197.7,759.2 1202.2,765 1206.6,723.9 1211,771.8 1215.5,732.1 1219.9,704.9 1224.4,688.4 1228.8,693.3 1233.2,691.3 1237.7,727.2 1242.1,721.4 1246.6,726.2 1251,735.9 1255.4,730 1259.9,708 1264.3,753.4 1268.8,695 1273.2,744.2 1277.6,756 1282.1,728.7 1286.5,742.3 1291,757.3 1295.4,732.1 1299.8,729.2 1304.3,767 1308.7,744.7 1313.2,724.3 1317.6,774.8 1322,753.4 1326.5,767 1330.9,737 1335.4,767 1339.8,782.6 1344.2,763.2 1348.7,772.9 1353.1,747.6 1357.6,764.1 1362,747.6 1366.4,753.4 1370.9,775.8 1375.3,796" fill="none" stroke="#c83b4b" stroke-width="5.3" stroke-linejoin="round" stroke-linecap="butt" stroke-opacity="0.88" clip-path="url(#cb)"/>
<g fill="#c83b4b" fill-opacity="0.88" clip-path="url(#cb)">
<circle cx="829.2" cy="755.8" r="6"/><circle cx="833.6" cy="779.2" r="6"/><circle cx="838.1" cy="745.3" r="6"/><circle cx="842.5" cy="748.5" r="6"/><circle cx="847" cy="759" r="6"/><circle cx="851.4" cy="763" r="6"/><circle cx="855.8" cy="780.8" r="6"/><circle cx="860.3" cy="743.3" r="6"/><circle cx="864.7" cy="765.5" r="6"/><circle cx="869.2" cy="777.6" r="6"/><circle cx="873.6" cy="795.4" r="6"/><circle cx="878" cy="759" r="6"/><circle cx="882.5" cy="746.9" r="6"/><circle cx="886.9" cy="749.3" r="6"/><circle cx="891.4" cy="769.5" r="6"/><circle cx="895.8" cy="774.4" r="6"/><circle cx="900.2" cy="761.4" r="6"/><circle cx="904.7" cy="749.3" r="6"/><circle cx="909.1" cy="757.4" r="6"/><circle cx="913.6" cy="777.6" r="6"/><circle cx="918" cy="755" r="6"/><circle cx="922.4" cy="759" r="6"/><circle cx="926.9" cy="790.5" r="6"/><circle cx="931.3" cy="779.2" r="6"/><circle cx="935.8" cy="726.7" r="6"/><circle cx="940.2" cy="770" r="6"/><circle cx="944.6" cy="738" r="6"/><circle cx="949.1" cy="715.2" r="6"/><circle cx="953.5" cy="697" r="6"/><circle cx="958" cy="667.9" r="6"/><circle cx="962.4" cy="647.2" r="6"/><circle cx="966.8" cy="633.3" r="6"/><circle cx="971.3" cy="515.1" r="6"/><circle cx="975.7" cy="377.8" r="6"/><circle cx="980.2" cy="260.4" r="6"/><circle cx="984.6" cy="270.8" r="6"/><circle cx="989" cy="370.3" r="6"/><circle cx="993.5" cy="480.6" r="6"/><circle cx="997.9" cy="577.7" r="6"/><circle cx="1002.4" cy="657" r="6"/><circle cx="1006.8" cy="690.9" r="6"/><circle cx="1011.2" cy="691.7" r="6"/><circle cx="1015.7" cy="677.2" r="6"/><circle cx="1020.1" cy="678" r="6"/><circle cx="1024.6" cy="657" r="6"/><circle cx="1029" cy="606" r="6"/><circle cx="1033.4" cy="616.6" r="6"/><circle cx="1037.9" cy="694.2" r="6"/><circle cx="1042.3" cy="649.7" r="6"/><circle cx="1046.8" cy="613.3" r="6"/><circle cx="1051.2" cy="595.9" r="6"/><circle cx="1055.6" cy="583.9" r="6"/><circle cx="1060.1" cy="609.3" r="6"/><circle cx="1064.5" cy="573.7" r="6"/><circle cx="1069" cy="616.6" r="6"/><circle cx="1073.4" cy="634.3" r="6"/><circle cx="1077.8" cy="635.2" r="6"/><circle cx="1082.3" cy="652.9" r="6"/><circle cx="1086.7" cy="646.5" r="6"/><circle cx="1091.2" cy="679.6" r="6"/><circle cx="1095.6" cy="682.8" r="6"/><circle cx="1100" cy="661.5" r="6"/><circle cx="1104.5" cy="703.8" r="6"/><circle cx="1108.9" cy="706" r="6"/><circle cx="1113.4" cy="687.7" r="6"/><circle cx="1117.8" cy="699" r="6"/><circle cx="1122.2" cy="686" r="6"/><circle cx="1126.7" cy="705" r="6"/><circle cx="1131.1" cy="711" r="6"/><circle cx="1135.6" cy="723.3" r="6"/><circle cx="1140" cy="736.9" r="6"/><circle cx="1144.4" cy="755.3" r="6"/><circle cx="1148.9" cy="770.9" r="6"/><circle cx="1153.3" cy="757.3" r="6"/><circle cx="1157.8" cy="746.6" r="6"/><circle cx="1162.2" cy="782.5" r="6"/><circle cx="1166.6" cy="735" r="6"/><circle cx="1171.1" cy="760" r="6"/><circle cx="1175.5" cy="778.6" r="6"/><circle cx="1180" cy="753.4" r="6"/><circle cx="1184.4" cy="755.3" r="6"/><circle cx="1188.8" cy="770.9" r="6"/><circle cx="1193.3" cy="760" r="6"/><circle cx="1197.7" cy="759.2" r="6"/><circle cx="1202.2" cy="765" r="6"/><circle cx="1206.6" cy="723.9" r="6"/><circle cx="1211" cy="771.8" r="6"/><circle cx="1215.5" cy="732.1" r="6"/><circle cx="1219.9" cy="704.9" r="6"/><circle cx="1224.4" cy="688.4" r="6"/><circle cx="1228.8" cy="693.3" r="6"/><circle cx="1233.2" cy="691.3" r="6"/><circle cx="1237.7" cy="727.2" r="6"/><circle cx="1242.1" cy="721.4" r="6"/><circle cx="1246.6" cy="726.2" r="6"/><circle cx="1251" cy="735.9" r="6"/><circle cx="1255.4" cy="730" r="6"/><circle cx="1259.9" cy="708" r="6"/><circle cx="1264.3" cy="753.4" r="6"/><circle cx="1268.8" cy="695" r="6"/><circle cx="1273.2" cy="744.2" r="6"/><circle cx="1277.6" cy="756" r="6"/><circle cx="1282.1" cy="728.7" r="6"/><circle cx="1286.5" cy="742.3" r="6"/><circle cx="1291" cy="757.3" r="6"/><circle cx="1295.4" cy="732.1" r="6"/><circle cx="1299.8" cy="729.2" r="6"/><circle cx="1304.3" cy="767" r="6"/><circle cx="1308.7" cy="744.7" r="6"/><circle cx="1313.2" cy="724.3" r="6"/><circle cx="1317.6" cy="774.8" r="6"/><circle cx="1322" cy="753.4" r="6"/><circle cx="1326.5" cy="767" r="6"/><circle cx="1330.9" cy="737" r="6"/><circle cx="1335.4" cy="767" r="6"/><circle cx="1339.8" cy="782.6" r="6"/><circle cx="1344.2" cy="763.2" r="6"/><circle cx="1348.7" cy="772.9" r="6"/><circle cx="1353.1" cy="747.6" r="6"/><circle cx="1357.6" cy="764.1" r="6"/><circle cx="1362" cy="747.6" r="6"/><circle cx="1366.4" cy="753.4" r="6"/><circle cx="1370.9" cy="775.8" r="6"/><circle cx="1375.3" cy="796" r="6"/>
</g>
<rect x="1047.7" y="39.3" width="315.5" height="106.2" rx="5" ry="5" fill="#fff" stroke="#dfdfdf" stroke-width="3.4"/>
<line x1="1053.8" y1="56.7" x2="1106.3" y2="56.7" stroke="#261a55" stroke-width="5.3" stroke-opacity="0.88"/>
<g fill="#261a55" fill-opacity="0.88">
<circle cx="1079.9" cy="56.7" r="6"/>
</g>
<line x1="1053.8" y1="89.8" x2="1106.3" y2="89.8" stroke="#fbad1e" stroke-width="5.3" stroke-opacity="0.88"/>
<g fill="#fbad1e" fill-opacity="0.88">
<circle cx="1079.9" cy="89.8" r="6"/>
</g>
<line x1="1053.8" y1="123.4" x2="1106.3" y2="123.4" stroke="#c83b4b" stroke-width="5.3" stroke-opacity="0.88"/>
<g fill="#c83b4b" fill-opacity="0.88">
<circle cx="1079.9" cy="123.4" r="6"/>
</g>
<text x="1117.5" y="61.9" font-size="20.8" text-anchor="start" stroke="#000">GaP substrate</text>
<text x="1117.5" y="96.3" font-size="20.8" text-anchor="start" stroke="#000">GaP dimer (<tspan font-style="italic">r</tspan> = 200 nm)</text>
<text x="1117.5" y="130.7" font-size="20.8" text-anchor="start" stroke="#000">GaP dimer (<tspan font-style="italic">r</tspan> = 50 nm)</text>
<text x="1108" y="203.6" font-size="33.7" text-anchor="start" stroke="#000">1L-WSe<tspan font-size="23" dy="8.3">2</tspan></text>
<text x="860" y="68.9" font-size="25.5" text-anchor="start" font-style="italic" stroke="#000">E</text>
<text x="879.3" y="66.3" font-size="30" text-anchor="start" font-style="italic" stroke="#000">′</text>
<text x="888.6" y="65.2" font-size="15.5" text-anchor="start" stroke="#000">+</text>
<text x="902.6" y="68.9" font-size="25.5" text-anchor="start" font-style="italic" stroke="#000">A</text>
<text x="919.3" y="73.5" font-size="17.5" text-anchor="start" stroke="#000">g</text>
<text x="919.3" y="66.3" font-size="30" text-anchor="start" font-style="italic" stroke="#000">′</text>
<path d="M881.4 845.6V835.2M881.4 27.4V37.8M988.7 845.6V835.2M988.7 27.4V37.8M1096 845.6V835.2M1096 27.4V37.8M1203.3 845.6V835.2M1203.3 27.4V37.8M1310.6 845.6V835.2M1310.6 27.4V37.8" stroke="#000" stroke-width="2.7" fill="none"/>
<path d="M828.3 735.2H838.5M1375.3 735.2H1365.1M828.3 624.6H838.5M1375.3 624.6H1365.1M828.3 514H838.5M1375.3 514H1365.1M828.3 403.4H838.5M1375.3 403.4H1365.1M828.3 292.8H838.5M1375.3 292.8H1365.1M828.3 182.2H838.5M1375.3 182.2H1365.1M828.3 71.6H838.5M1375.3 71.6H1365.1" stroke="#000" stroke-width="2.7" fill="none"/>
<rect x="828.3" y="27.4" width="547" height="818.2" fill="none" stroke="#000" stroke-width="2.8"/>
<text x="881.4" y="876.4" font-size="25" text-anchor="middle" stroke="#000">240</text>
<text x="988.7" y="876.4" font-size="25" text-anchor="middle" stroke="#000">250</text>
<text x="1096" y="876.4" font-size="25" text-anchor="middle" stroke="#000">260</text>
<text x="1203.3" y="876.4" font-size="25" text-anchor="middle" stroke="#000">270</text>
<text x="1310.6" y="876.4" font-size="25" text-anchor="middle" stroke="#000">280</text>
<text x="814.7" y="854.5" font-size="25" text-anchor="end" stroke="#000">0</text>
<text x="814.7" y="743.9" font-size="25" text-anchor="end" stroke="#000">25</text>
<text x="814.7" y="633.3" font-size="25" text-anchor="end" stroke="#000">50</text>
<text x="814.7" y="522.7" font-size="25" text-anchor="end" stroke="#000">75</text>
<text x="814.7" y="412.1" font-size="25" text-anchor="end" stroke="#000">100</text>
<text x="814.7" y="301.5" font-size="25" text-anchor="end" stroke="#000">125</text>
<text x="814.7" y="190.9" font-size="25" text-anchor="end" stroke="#000">150</text>
<text x="814.7" y="80.3" font-size="25" text-anchor="end" stroke="#000">175</text>
<text x="1101.3" y="921.6" font-size="25" text-anchor="middle" stroke="#000">Raman shift (cm<tspan font-size="16.7" dy="-10">−1</tspan><tspan dy="10">)</tspan></text>
<text x="749.9" y="436.9" font-size="25" text-anchor="middle" stroke="#000" transform="rotate(-90 749.9 436.9)">Scattering intensity (arb.)</text>
<text x="728.5" y="29.4" font-size="41.3" text-anchor="start" font-weight="bold" stroke="#000">b</text>
<polyline points="1525,513.1 1528.9,512.9 1532.9,514.3 1536.8,513.1 1540.7,514.6 1544.7,514.4 1548.6,513.6 1552.5,514.7 1556.4,513.5 1560.4,514 1564.3,512.7 1568.2,512.2 1572.2,512.4 1576.1,513.3 1580,512 1584,512.6 1587.9,514 1591.8,513.7 1595.7,511.8 1599.7,510.3 1603.6,511.3 1607.5,510.1 1611.5,513.1 1615.4,512.8 1619.3,512.3 1623.2,511.3 1627.2,509.6 1631.1,507.9 1635,503 1639,498.2 1642.9,488.5 1646.8,469.7 1650.8,439.5 1654.7,410.2 1658.6,405 1662.5,427 1666.5,457.2 1670.4,479.8 1674.3,490.6 1678.3,495 1682.2,497 1686.1,497.1 1690.1,498.2 1694,497.9 1697.9,497.5 1701.8,498.2 1705.8,497 1709.7,493.3 1713.6,490 1717.6,489 1721.5,490.8 1725.4,491.4 1729.4,491.7 1733.3,494.8 1737.2,493.7 1741.2,493.3 1745.1,493.2 1749,494.4 1752.9,497.8 1756.9,498.9 1760.8,501.9 1764.7,503.6 1768.7,504 1772.6,505.5 1776.5,505 1780.5,506.1 1784.4,506 1788.3,506.2 1792.2,506.3 1796.2,507.6 1800.1,508.3 1804,507.3 1808,508 1811.9,506.7 1815.8,508.5 1819.8,508.5 1823.7,509.3 1827.6,508.7 1831.5,507.3 1835.5,507.4 1839.4,507.9 1843.3,506.2 1847.3,507 1851.2,506.1 1855.1,505.7 1859,505.2 1863,506.2 1866.9,504 1870.8,503.5 1874.8,504 1878.7,505.5 1882.6,503.9 1886.6,505.1 1890.5,505.6 1894.4,506 1898.3,505.4 1902.3,505.1 1906.2,503.6 1910.1,504.3 1914.1,504.6 1918,506.2 1921.9,506.6 1925.9,504.5 1929.8,504.5 1933.7,504.5 1937.7,504.4 1941.6,504.9 1945.5,505.1 1949.4,504.2 1953.4,503.5 1957.3,504.4 1961.2,504.2 1965.2,505.3 1969.1,507 1973,507.1 1977,507 1980.9,507.3 1984.8,507.4 1988.7,505.9 1992.7,508.1 1996.6,508.1 2000.5,508.6 2004.5,508.7 2008.4,508.1 2012.3,508.5 2016.2,508.2" fill="none" stroke="#1f1b47" stroke-width="5" stroke-linejoin="round" stroke-linecap="butt" clip-path="url(#cc)"/>
<g fill="#1f1b47" clip-path="url(#cc)">
<circle cx="1525" cy="513.1" r="6.2"/><circle cx="1528.9" cy="512.9" r="6.2"/><circle cx="1532.9" cy="514.3" r="6.2"/><circle cx="1536.8" cy="513.1" r="6.2"/><circle cx="1540.7" cy="514.6" r="6.2"/><circle cx="1544.7" cy="514.4" r="6.2"/><circle cx="1548.6" cy="513.6" r="6.2"/><circle cx="1552.5" cy="514.7" r="6.2"/><circle cx="1556.4" cy="513.5" r="6.2"/><circle cx="1560.4" cy="514" r="6.2"/><circle cx="1564.3" cy="512.7" r="6.2"/><circle cx="1568.2" cy="512.2" r="6.2"/><circle cx="1572.2" cy="512.4" r="6.2"/><circle cx="1576.1" cy="513.3" r="6.2"/><circle cx="1580" cy="512" r="6.2"/><circle cx="1584" cy="512.6" r="6.2"/><circle cx="1587.9" cy="514" r="6.2"/><circle cx="1591.8" cy="513.7" r="6.2"/><circle cx="1595.7" cy="511.8" r="6.2"/><circle cx="1599.7" cy="510.3" r="6.2"/><circle cx="1603.6" cy="511.3" r="6.2"/><circle cx="1607.5" cy="510.1" r="6.2"/><circle cx="1611.5" cy="513.1" r="6.2"/><circle cx="1615.4" cy="512.8" r="6.2"/><circle cx="1619.3" cy="512.3" r="6.2"/><circle cx="1623.2" cy="511.3" r="6.2"/><circle cx="1627.2" cy="509.6" r="6.2"/><circle cx="1631.1" cy="507.9" r="6.2"/><circle cx="1635" cy="503" r="6.2"/><circle cx="1639" cy="498.2" r="6.2"/><circle cx="1642.9" cy="488.5" r="6.2"/><circle cx="1646.8" cy="469.7" r="6.2"/><circle cx="1650.8" cy="439.5" r="6.2"/><circle cx="1654.7" cy="410.2" r="6.2"/><circle cx="1658.6" cy="405" r="6.2"/><circle cx="1662.5" cy="427" r="6.2"/><circle cx="1666.5" cy="457.2" r="6.2"/><circle cx="1670.4" cy="479.8" r="6.2"/><circle cx="1674.3" cy="490.6" r="6.2"/><circle cx="1678.3" cy="495" r="6.2"/><circle cx="1682.2" cy="497" r="6.2"/><circle cx="1686.1" cy="497.1" r="6.2"/><circle cx="1690.1" cy="498.2" r="6.2"/><circle cx="1694" cy="497.9" r="6.2"/><circle cx="1697.9" cy="497.5" r="6.2"/><circle cx="1701.8" cy="498.2" r="6.2"/><circle cx="1705.8" cy="497" r="6.2"/><circle cx="1709.7" cy="493.3" r="6.2"/><circle cx="1713.6" cy="490" r="6.2"/><circle cx="1717.6" cy="489" r="6.2"/><circle cx="1721.5" cy="490.8" r="6.2"/><circle cx="1725.4" cy="491.4" r="6.2"/><circle cx="1729.4" cy="491.7" r="6.2"/><circle cx="1733.3" cy="494.8" r="6.2"/><circle cx="1737.2" cy="493.7" r="6.2"/><circle cx="1741.2" cy="493.3" r="6.2"/><circle cx="1745.1" cy="493.2" r="6.2"/><circle cx="1749" cy="494.4" r="6.2"/><circle cx="1752.9" cy="497.8" r="6.2"/><circle cx="1756.9" cy="498.9" r="6.2"/><circle cx="1760.8" cy="501.9" r="6.2"/><circle cx="1764.7" cy="503.6" r="6.2"/><circle cx="1768.7" cy="504" r="6.2"/><circle cx="1772.6" cy="505.5" r="6.2"/><circle cx="1776.5" cy="505" r="6.2"/><circle cx="1780.5" cy="506.1" r="6.2"/><circle cx="1784.4" cy="506" r="6.2"/><circle cx="1788.3" cy="506.2" r="6.2"/><circle cx="1792.2" cy="506.3" r="6.2"/><circle cx="1796.2" cy="507.6" r="6.2"/><circle cx="1800.1" cy="508.3" r="6.2"/><circle cx="1804" cy="507.3" r="6.2"/><circle cx="1808" cy="508" r="6.2"/><circle cx="1811.9" cy="506.7" r="6.2"/><circle cx="1815.8" cy="508.5" r="6.2"/><circle cx="1819.8" cy="508.5" r="6.2"/><circle cx="1823.7" cy="509.3" r="6.2"/><circle cx="1827.6" cy="508.7" r="6.2"/><circle cx="1831.5" cy="507.3" r="6.2"/><circle cx="1835.5" cy="507.4" r="6.2"/><circle cx="1839.4" cy="507.9" r="6.2"/><circle cx="1843.3" cy="506.2" r="6.2"/><circle cx="1847.3" cy="507" r="6.2"/><circle cx="1851.2" cy="506.1" r="6.2"/><circle cx="1855.1" cy="505.7" r="6.2"/><circle cx="1859" cy="505.2" r="6.2"/><circle cx="1863" cy="506.2" r="6.2"/><circle cx="1866.9" cy="504" r="6.2"/><circle cx="1870.8" cy="503.5" r="6.2"/><circle cx="1874.8" cy="504" r="6.2"/><circle cx="1878.7" cy="505.5" r="6.2"/><circle cx="1882.6" cy="503.9" r="6.2"/><circle cx="1886.6" cy="505.1" r="6.2"/><circle cx="1890.5" cy="505.6" r="6.2"/><circle cx="1894.4" cy="506" r="6.2"/><circle cx="1898.3" cy="505.4" r="6.2"/><circle cx="1902.3" cy="505.1" r="6.2"/><circle cx="1906.2" cy="503.6" r="6.2"/><circle cx="1910.1" cy="504.3" r="6.2"/><circle cx="1914.1" cy="504.6" r="6.2"/><circle cx="1918" cy="506.2" r="6.2"/><circle cx="1921.9" cy="506.6" r="6.2"/><circle cx="1925.9" cy="504.5" r="6.2"/><circle cx="1929.8" cy="504.5" r="6.2"/><circle cx="1933.7" cy="504.5" r="6.2"/><circle cx="1937.7" cy="504.4" r="6.2"/><circle cx="1941.6" cy="504.9" r="6.2"/><circle cx="1945.5" cy="505.1" r="6.2"/><circle cx="1949.4" cy="504.2" r="6.2"/><circle cx="1953.4" cy="503.5" r="6.2"/><circle cx="1957.3" cy="504.4" r="6.2"/><circle cx="1961.2" cy="504.2" r="6.2"/><circle cx="1965.2" cy="505.3" r="6.2"/><circle cx="1969.1" cy="507" r="6.2"/><circle cx="1973" cy="507.1" r="6.2"/><circle cx="1977" cy="507" r="6.2"/><circle cx="1980.9" cy="507.3" r="6.2"/><circle cx="1984.8" cy="507.4" r="6.2"/><circle cx="1988.7" cy="505.9" r="6.2"/><circle cx="1992.7" cy="508.1" r="6.2"/><circle cx="1996.6" cy="508.1" r="6.2"/><circle cx="2000.5" cy="508.6" r="6.2"/><circle cx="2004.5" cy="508.7" r="6.2"/><circle cx="2008.4" cy="508.1" r="6.2"/><circle cx="2012.3" cy="508.5" r="6.2"/><circle cx="2016.2" cy="508.2" r="6.2"/>
</g>
<polyline points="1525,512.1 1528.9,510.1 1532.9,509.6 1536.8,509.3 1540.7,508.6 1544.7,508.7 1548.6,508.9 1552.5,509.6 1556.4,510.9 1560.4,509 1564.3,507.5 1568.2,504.6 1572.2,504.9 1576.1,504.5 1580,503.7 1584,505.1 1587.9,506.5 1591.8,504.2 1595.7,501.2 1599.7,502.4 1603.6,502.3 1607.5,500.4 1611.5,498.8 1615.4,495.1 1619.3,492.8 1623.2,484.2 1627.2,471.2 1631.1,461.5 1635,447.5 1639,424.4 1642.9,393.2 1646.8,347.7 1650.8,257.9 1654.7,135.5 1658.6,78.6 1662.5,140.2 1666.5,265.5 1670.4,368 1674.3,424.9 1678.3,451.8 1682.2,457.2 1686.1,468 1690.1,476.6 1694,478 1697.9,477.7 1701.8,478.4 1705.8,477.9 1709.7,474.4 1713.6,464.9 1717.6,459.1 1721.5,463.3 1725.4,465.8 1729.4,468.4 1733.3,470.4 1737.2,472.6 1741.2,468.3 1745.1,464.5 1749,467.5 1752.9,472.5 1756.9,477.2 1760.8,480.7 1764.7,484.2 1768.7,487.6 1772.6,484.6 1776.5,486.3 1780.5,491.9 1784.4,495.7 1788.3,500.3 1792.2,502.8 1796.2,504.3 1800.1,506.9 1804,508.1 1808,507.4 1811.9,509.1 1815.8,509.7 1819.8,510.1 1823.7,509.4 1827.6,509.7 1831.5,510.4 1835.5,510.5 1839.4,510.2 1843.3,510.9 1847.3,511.2 1851.2,513.2 1855.1,514.8 1859,513.7 1863,512.5 1866.9,509.2 1870.8,508.7 1874.8,507.3 1878.7,507.9 1882.6,510.8 1886.6,512.4 1890.5,510.8 1894.4,511.4 1898.3,509.4 1902.3,509.8 1906.2,511 1910.1,510.4 1914.1,511.2 1918,512.8 1921.9,512.6 1925.9,511.6 1929.8,511.1 1933.7,509.1 1937.7,508.9 1941.6,508.7 1945.5,507.3 1949.4,509.2 1953.4,509.7 1957.3,509.2 1961.2,508.6 1965.2,510.3 1969.1,510.7 1973,511.9 1977,515.6 1980.9,514.6 1984.8,513.4 1988.7,513.4 1992.7,511.3 1996.6,512.9 2000.5,513.3 2004.5,512.4 2008.4,513 2012.3,513.9 2016.2,514.7" fill="none" stroke="#e8602c" stroke-width="5" stroke-linejoin="round" stroke-linecap="butt" clip-path="url(#cc)"/>
<g fill="#e8602c" clip-path="url(#cc)">
<circle cx="1525" cy="512.1" r="6.2"/><circle cx="1528.9" cy="510.1" r="6.2"/><circle cx="1532.9" cy="509.6" r="6.2"/><circle cx="1536.8" cy="509.3" r="6.2"/><circle cx="1540.7" cy="508.6" r="6.2"/><circle cx="1544.7" cy="508.7" r="6.2"/><circle cx="1548.6" cy="508.9" r="6.2"/><circle cx="1552.5" cy="509.6" r="6.2"/><circle cx="1556.4" cy="510.9" r="6.2"/><circle cx="1560.4" cy="509" r="6.2"/><circle cx="1564.3" cy="507.5" r="6.2"/><circle cx="1568.2" cy="504.6" r="6.2"/><circle cx="1572.2" cy="504.9" r="6.2"/><circle cx="1576.1" cy="504.5" r="6.2"/><circle cx="1580" cy="503.7" r="6.2"/><circle cx="1584" cy="505.1" r="6.2"/><circle cx="1587.9" cy="506.5" r="6.2"/><circle cx="1591.8" cy="504.2" r="6.2"/><circle cx="1595.7" cy="501.2" r="6.2"/><circle cx="1599.7" cy="502.4" r="6.2"/><circle cx="1603.6" cy="502.3" r="6.2"/><circle cx="1607.5" cy="500.4" r="6.2"/><circle cx="1611.5" cy="498.8" r="6.2"/><circle cx="1615.4" cy="495.1" r="6.2"/><circle cx="1619.3" cy="492.8" r="6.2"/><circle cx="1623.2" cy="484.2" r="6.2"/><circle cx="1627.2" cy="471.2" r="6.2"/><circle cx="1631.1" cy="461.5" r="6.2"/><circle cx="1635" cy="447.5" r="6.2"/><circle cx="1639" cy="424.4" r="6.2"/><circle cx="1642.9" cy="393.2" r="6.2"/><circle cx="1646.8" cy="347.7" r="6.2"/><circle cx="1650.8" cy="257.9" r="6.2"/><circle cx="1654.7" cy="135.5" r="6.2"/><circle cx="1658.6" cy="78.6" r="6.2"/><circle cx="1662.5" cy="140.2" r="6.2"/><circle cx="1666.5" cy="265.5" r="6.2"/><circle cx="1670.4" cy="368" r="6.2"/><circle cx="1674.3" cy="424.9" r="6.2"/><circle cx="1678.3" cy="451.8" r="6.2"/><circle cx="1682.2" cy="457.2" r="6.2"/><circle cx="1686.1" cy="468" r="6.2"/><circle cx="1690.1" cy="476.6" r="6.2"/><circle cx="1694" cy="478" r="6.2"/><circle cx="1697.9" cy="477.7" r="6.2"/><circle cx="1701.8" cy="478.4" r="6.2"/><circle cx="1705.8" cy="477.9" r="6.2"/><circle cx="1709.7" cy="474.4" r="6.2"/><circle cx="1713.6" cy="464.9" r="6.2"/><circle cx="1717.6" cy="459.1" r="6.2"/><circle cx="1721.5" cy="463.3" r="6.2"/><circle cx="1725.4" cy="465.8" r="6.2"/><circle cx="1729.4" cy="468.4" r="6.2"/><circle cx="1733.3" cy="470.4" r="6.2"/><circle cx="1737.2" cy="472.6" r="6.2"/><circle cx="1741.2" cy="468.3" r="6.2"/><circle cx="1745.1" cy="464.5" r="6.2"/><circle cx="1749" cy="467.5" r="6.2"/><circle cx="1752.9" cy="472.5" r="6.2"/><circle cx="1756.9" cy="477.2" r="6.2"/><circle cx="1760.8" cy="480.7" r="6.2"/><circle cx="1764.7" cy="484.2" r="6.2"/><circle cx="1768.7" cy="487.6" r="6.2"/><circle cx="1772.6" cy="484.6" r="6.2"/><circle cx="1776.5" cy="486.3" r="6.2"/><circle cx="1780.5" cy="491.9" r="6.2"/><circle cx="1784.4" cy="495.7" r="6.2"/><circle cx="1788.3" cy="500.3" r="6.2"/><circle cx="1792.2" cy="502.8" r="6.2"/><circle cx="1796.2" cy="504.3" r="6.2"/><circle cx="1800.1" cy="506.9" r="6.2"/><circle cx="1804" cy="508.1" r="6.2"/><circle cx="1808" cy="507.4" r="6.2"/><circle cx="1811.9" cy="509.1" r="6.2"/><circle cx="1815.8" cy="509.7" r="6.2"/><circle cx="1819.8" cy="510.1" r="6.2"/><circle cx="1823.7" cy="509.4" r="6.2"/><circle cx="1827.6" cy="509.7" r="6.2"/><circle cx="1831.5" cy="510.4" r="6.2"/><circle cx="1835.5" cy="510.5" r="6.2"/><circle cx="1839.4" cy="510.2" r="6.2"/><circle cx="1843.3" cy="510.9" r="6.2"/><circle cx="1847.3" cy="511.2" r="6.2"/><circle cx="1851.2" cy="513.2" r="6.2"/><circle cx="1855.1" cy="514.8" r="6.2"/><circle cx="1859" cy="513.7" r="6.2"/><circle cx="1863" cy="512.5" r="6.2"/><circle cx="1866.9" cy="509.2" r="6.2"/><circle cx="1870.8" cy="508.7" r="6.2"/><circle cx="1874.8" cy="507.3" r="6.2"/><circle cx="1878.7" cy="507.9" r="6.2"/><circle cx="1882.6" cy="510.8" r="6.2"/><circle cx="1886.6" cy="512.4" r="6.2"/><circle cx="1890.5" cy="510.8" r="6.2"/><circle cx="1894.4" cy="511.4" r="6.2"/><circle cx="1898.3" cy="509.4" r="6.2"/><circle cx="1902.3" cy="509.8" r="6.2"/><circle cx="1906.2" cy="511" r="6.2"/><circle cx="1910.1" cy="510.4" r="6.2"/><circle cx="1914.1" cy="511.2" r="6.2"/><circle cx="1918" cy="512.8" r="6.2"/><circle cx="1921.9" cy="512.6" r="6.2"/><circle cx="1925.9" cy="511.6" r="6.2"/><circle cx="1929.8" cy="511.1" r="6.2"/><circle cx="1933.7" cy="509.1" r="6.2"/><circle cx="1937.7" cy="508.9" r="6.2"/><circle cx="1941.6" cy="508.7" r="6.2"/><circle cx="1945.5" cy="507.3" r="6.2"/><circle cx="1949.4" cy="509.2" r="6.2"/><circle cx="1953.4" cy="509.7" r="6.2"/><circle cx="1957.3" cy="509.2" r="6.2"/><circle cx="1961.2" cy="508.6" r="6.2"/><circle cx="1965.2" cy="510.3" r="6.2"/><circle cx="1969.1" cy="510.7" r="6.2"/><circle cx="1973" cy="511.9" r="6.2"/><circle cx="1977" cy="515.6" r="6.2"/><circle cx="1980.9" cy="514.6" r="6.2"/><circle cx="1984.8" cy="513.4" r="6.2"/><circle cx="1988.7" cy="513.4" r="6.2"/><circle cx="1992.7" cy="511.3" r="6.2"/><circle cx="1996.6" cy="512.9" r="6.2"/><circle cx="2000.5" cy="513.3" r="6.2"/><circle cx="2004.5" cy="512.4" r="6.2"/><circle cx="2008.4" cy="513" r="6.2"/><circle cx="2012.3" cy="513.9" r="6.2"/><circle cx="2016.2" cy="514.7" r="6.2"/>
</g>
<rect x="1692.4" y="31.6" width="315.8" height="72.9" rx="5" ry="5" fill="#fff" stroke="#dfdfdf" stroke-width="3.4"/>
<line x1="1699" y1="49.3" x2="1751" y2="49.3" stroke="#1f1b47" stroke-width="5"/>
<g fill="#1f1b47">
<circle cx="1725" cy="49.3" r="6.2"/>
</g>
<line x1="1699" y1="82.2" x2="1751" y2="82.2" stroke="#e8602c" stroke-width="5"/>
<g fill="#e8602c">
<circle cx="1725" cy="82.2" r="6.2"/>
</g>
<text x="1766" y="56" font-size="20.8" text-anchor="start" stroke="#000">GaP substrate</text>
<text x="1766" y="89.4" font-size="20.8" text-anchor="start" stroke="#000">GaP dimer (<tspan font-style="italic">r</tspan> = 200 nm)</text>
<text x="1757.5" y="147.5" font-size="33.7" text-anchor="start" fill="#1f1b47" stroke="#1f1b47">2L-WSe<tspan font-size="23" dy="7.6">2</tspan></text>
<text x="1533" y="77.6" font-size="23.5" text-anchor="start" stroke="#000"><tspan font-style="italic">E</tspan></text>
<text x="1549.9" y="64.5" font-size="16" text-anchor="start" stroke="#000">1</text>
<text x="1550.3" y="83" font-size="16.5" text-anchor="start" stroke="#000">2g</text>
<text x="1572" y="75.5" font-size="15" text-anchor="start" stroke="#000">+</text>
<text x="1586.5" y="77.6" font-size="23.5" text-anchor="start" stroke="#000"><tspan font-style="italic">A</tspan></text>
<text x="1603.5" y="83" font-size="16.5" text-anchor="start" stroke="#000">1g</text>
<path d="M1563.1 524.7V514.2M1563.1 20V30.5M1658.2 524.7V514.2M1658.2 20V30.5M1753.2 524.7V514.2M1753.2 20V30.5M1848.3 524.7V514.2M1848.3 20V30.5M1943.3 524.7V514.2M1943.3 20V30.5" stroke="#000" stroke-width="2.6" fill="none"/>
<path d="M1524.7 465.2H1535.2M2019.4 465.2H2008.9M1524.7 405.9H1535.2M2019.4 405.9H2008.9M1524.7 346.5H1535.2M2019.4 346.5H2008.9M1524.7 287.2H1535.2M2019.4 287.2H2008.9M1524.7 227.8H1535.2M2019.4 227.8H2008.9M1524.7 168.4H1535.2M2019.4 168.4H2008.9M1524.7 109.1H1535.2M2019.4 109.1H2008.9M1524.7 49.7H1535.2M2019.4 49.7H2008.9" stroke="#000" stroke-width="2.6" fill="none"/>
<rect x="1524.7" y="20" width="494.7" height="504.7" fill="none" stroke="#000" stroke-width="2.8"/>
<text x="1565" y="556.2" font-size="25" text-anchor="middle" stroke="#000">240</text>
<text x="1660.1" y="556.2" font-size="25" text-anchor="middle" stroke="#000">250</text>
<text x="1755.1" y="556.2" font-size="25" text-anchor="middle" stroke="#000">260</text>
<text x="1850.2" y="556.2" font-size="25" text-anchor="middle" stroke="#000">270</text>
<text x="1945.2" y="556.2" font-size="25" text-anchor="middle" stroke="#000">280</text>
<text x="1512" y="533.3" font-size="25" text-anchor="end" stroke="#000">0</text>
<text x="1512" y="473.9" font-size="25" text-anchor="end" stroke="#000">20</text>
<text x="1512" y="414.6" font-size="25" text-anchor="end" stroke="#000">40</text>
<text x="1512" y="355.2" font-size="25" text-anchor="end" stroke="#000">60</text>
<text x="1512" y="295.9" font-size="25" text-anchor="end" stroke="#000">80</text>
<text x="1512" y="236.5" font-size="25" text-anchor="end" stroke="#000">100</text>
<text x="1512" y="177.1" font-size="25" text-anchor="end" stroke="#000">120</text>
<text x="1512" y="117.8" font-size="25" text-anchor="end" stroke="#000">140</text>
<text x="1512" y="58.4" font-size="25" text-anchor="end" stroke="#000">160</text>
<text x="1773.5" y="599.5" font-size="25" text-anchor="middle" stroke="#000">Raman shift (cm<tspan font-size="16.7" dy="-10">−1</tspan><tspan dy="10">)</tspan></text>
<text x="1445.5" y="272" font-size="25" text-anchor="middle" stroke="#000" transform="rotate(-90 1445.5 272)">Scattering intensity (arb.)</text>
<text x="1425.8" y="30.7" font-size="41.3" text-anchor="start" font-weight="bold" stroke="#000">c</text>
<rect x="1562" y="661.4" width="20.5" height="20.5" rx="2.4" fill="#631d72" fill-opacity="0.8" transform="rotate(45 1572.3 671.7)"/>
<rect x="1606.9" y="722.7" width="20.5" height="20.5" rx="2.4" fill="#631d72" fill-opacity="0.8" transform="rotate(45 1617.2 733)"/>
<rect x="1606.9" y="724.1" width="20.5" height="20.5" rx="2.4" fill="#631d72" fill-opacity="0.8" transform="rotate(45 1617.2 734.4)"/>
<rect x="1606.9" y="747.2" width="20.5" height="20.5" rx="2.4" fill="#631d72" fill-opacity="0.8" transform="rotate(45 1617.2 757.5)"/>
<rect x="1696.6" y="731.1" width="20.5" height="20.5" rx="2.4" fill="#631d72" fill-opacity="0.8" transform="rotate(45 1706.9 741.4)"/>
<rect x="1696.6" y="737.2" width="20.5" height="20.5" rx="2.4" fill="#631d72" fill-opacity="0.8" transform="rotate(45 1706.9 747.5)"/>
<rect x="1786.4" y="775.4" width="20.5" height="20.5" rx="2.4" fill="#631d72" fill-opacity="0.8" transform="rotate(45 1796.7 785.7)"/>
<rect x="1786.4" y="785.3" width="20.5" height="20.5" rx="2.4" fill="#631d72" fill-opacity="0.8" transform="rotate(45 1796.7 795.6)"/>
<rect x="1965.9" y="790.8" width="20.5" height="20.5" rx="2.4" fill="#631d72" fill-opacity="0.8" transform="rotate(45 1976.2 801.1)"/>
<rect x="1965.9" y="798.7" width="20.5" height="20.5" rx="2.4" fill="#631d72" fill-opacity="0.8" transform="rotate(45 1976.2 809)"/>
<rect x="1606.9" y="686.1" width="20.5" height="20.5" rx="2.4" fill="#ec6824" fill-opacity="0.8" transform="rotate(45 1617.2 696.4)"/>
<rect x="1696.6" y="734.3" width="20.5" height="20.5" rx="2.4" fill="#ec6824" fill-opacity="0.8" transform="rotate(45 1706.9 744.6)"/>
<rect x="1829" y="662.9" width="178.7" height="74.3" rx="5" ry="5" fill="#fff" stroke="#dfdfdf" stroke-width="3.8"/>
<rect x="1850.5" y="672.3" width="20.5" height="20.5" rx="2.4" fill="#631d72" fill-opacity="0.8" transform="rotate(45 1860.8 682.6)"/>
<rect x="1850.5" y="707.2" width="20.5" height="20.5" rx="2.4" fill="#ec6824" fill-opacity="0.8" transform="rotate(45 1860.8 717.5)"/>
<text x="1886" y="688.3" font-size="20.9" text-anchor="start" stroke="#000">1L-WSe<tspan font-size="15.5" dy="6.7">2</tspan></text>
<text x="1886" y="723" font-size="20.9" text-anchor="start" stroke="#000">2L-WSe<tspan font-size="15.5" dy="6.7">2</tspan></text>
<path d="M1617.2 845.4V834.9M1617.2 650.6V661.1M1706.9 845.4V834.9M1706.9 650.6V661.1M1796.7 845.4V834.9M1796.7 650.6V661.1M1886.4 845.4V834.9M1886.4 650.6V661.1M1976.2 845.4V834.9M1976.2 650.6V661.1" stroke="#000" stroke-width="2.5" fill="none"/>
<path d="M1545.4 845.4V839.4M1545.4 650.6V656.6M1563.3 845.4V839.4M1563.3 650.6V656.6M1581.2 845.4V839.4M1581.2 650.6V656.6M1599.2 845.4V839.4M1599.2 650.6V656.6M1635.1 845.4V839.4M1635.1 650.6V656.6M1653.1 845.4V839.4M1653.1 650.6V656.6M1671 845.4V839.4M1671 650.6V656.6M1689 845.4V839.4M1689 650.6V656.6M1724.9 845.4V839.4M1724.9 650.6V656.6M1742.8 845.4V839.4M1742.8 650.6V656.6M1760.8 845.4V839.4M1760.8 650.6V656.6M1778.7 845.4V839.4M1778.7 650.6V656.6M1814.6 845.4V839.4M1814.6 650.6V656.6M1832.6 845.4V839.4M1832.6 650.6V656.6M1850.5 845.4V839.4M1850.5 650.6V656.6M1868.5 845.4V839.4M1868.5 650.6V656.6M1904.4 845.4V839.4M1904.4 650.6V656.6M1922.3 845.4V839.4M1922.3 650.6V656.6M1940.2 845.4V839.4M1940.2 650.6V656.6M1958.2 845.4V839.4M1958.2 650.6V656.6M1994.1 845.4V839.4M1994.1 650.6V656.6M2012.1 845.4V839.4M2012.1 650.6V656.6" stroke="#000" stroke-width="2.2" fill="none"/>
<path d="M1527.5 766.6H1538M2019.3 766.6H2008.8M1527.5 687.4H1538M2019.3 687.4H2008.8" stroke="#000" stroke-width="2.5" fill="none"/>
<path d="M1527.5 821.9H1533.5M2019.3 821.9H2013.3M1527.5 807.9H1533.5M2019.3 807.9H2013.3M1527.5 798H1533.5M2019.3 798H2013.3M1527.5 790.4H1533.5M2019.3 790.4H2013.3M1527.5 784.1H1533.5M2019.3 784.1H2013.3M1527.5 778.8H1533.5M2019.3 778.8H2013.3M1527.5 774.2H1533.5M2019.3 774.2H2013.3M1527.5 770.2H1533.5M2019.3 770.2H2013.3M1527.5 742.7H1533.5M2019.3 742.7H2013.3M1527.5 728.8H1533.5M2019.3 728.8H2013.3M1527.5 718.9H1533.5M2019.3 718.9H2013.3M1527.5 711.2H1533.5M2019.3 711.2H2013.3M1527.5 705H1533.5M2019.3 705H2013.3M1527.5 699.7H1533.5M2019.3 699.7H2013.3M1527.5 695.1H1533.5M2019.3 695.1H2013.3M1527.5 691H1533.5M2019.3 691H2013.3M1527.5 663.6H1533.5M2019.3 663.6H2013.3" stroke="#000" stroke-width="2.2" fill="none"/>
<rect x="1527.5" y="650.6" width="491.8" height="194.8" fill="none" stroke="#000" stroke-width="3"/>
<text x="1527.4" y="877.2" font-size="25" text-anchor="middle" stroke="#000">0</text>
<text x="1617.2" y="877.2" font-size="25" text-anchor="middle" stroke="#000">100</text>
<text x="1706.9" y="877.2" font-size="25" text-anchor="middle" stroke="#000">200</text>
<text x="1796.7" y="877.2" font-size="25" text-anchor="middle" stroke="#000">300</text>
<text x="1886.4" y="877.2" font-size="25" text-anchor="middle" stroke="#000">400</text>
<text x="1976.2" y="877.2" font-size="25" text-anchor="middle" stroke="#000">500</text>
<text x="1514.5" y="855" font-size="25" text-anchor="end" stroke="#000">10<tspan font-size="16.7" dy="-11.8">1</tspan></text>
<text x="1514.5" y="775.9" font-size="25" text-anchor="end" stroke="#000">10<tspan font-size="16.7" dy="-11.8">2</tspan></text>
<text x="1514.5" y="696.7" font-size="25" text-anchor="end" stroke="#000">10<tspan font-size="16.7" dy="-11.8">3</tspan></text>
<text x="1773.2" y="914.7" font-size="25" text-anchor="middle" stroke="#000">Antenna radius, <tspan font-style="italic">r</tspan> (nm)</text>
<text x="1453.7" y="805" font-size="25" text-anchor="start" stroke="#000" transform="rotate(-90 1453.7 805)">⟨EF⟩<tspan font-size="17.0" dy="-12.7">Raman</tspan></text>
<text x="1425.9" y="659.6" font-size="41.3" text-anchor="start" font-weight="bold" stroke="#000">d</text>
</svg>
</body></html>
